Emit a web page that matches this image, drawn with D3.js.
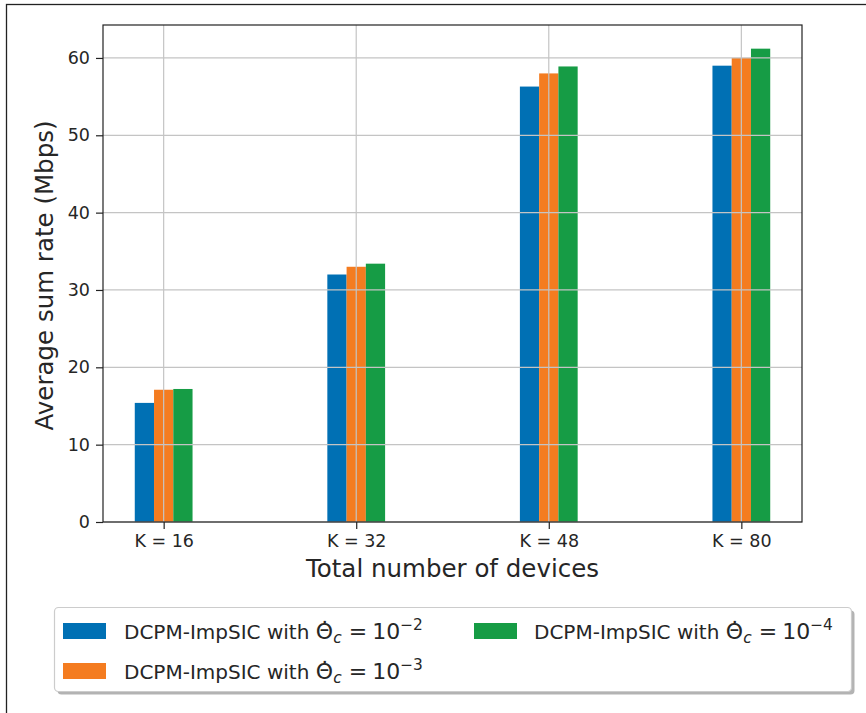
<!DOCTYPE html>
<html>
<head>
<meta charset="utf-8">
<script src="https://cdn.jsdelivr.net/npm/d3@7"></script>
<style>
  body { margin: 0; background: #fff; }
  svg { font-family: "DejaVu Sans", sans-serif; }
</style>
</head>
<body>
<svg id="chart" width="866" height="713"></svg>
<script>
// data
var categories = ["K = 16", "K = 32", "K = 48", "K = 80"];
var rateTheta2 = [15.4, 32.0, 56.3, 59.0];   // Theta_c = 10^-2
var rateTheta3 = [17.1, 33.0, 58.0, 60.0];   // Theta_c = 10^-3
var rateTheta4 = [17.2, 33.4, 58.9, 61.2];   // Theta_c = 10^-4
var exponents = ["2", "3", "4"];
var yTicks = [0, 10, 20, 30, 40, 50, 60];

var series = [
  { exp: exponents[0], values: rateTheta2, color: "#0070b4", offset: -0.1 },
  { exp: exponents[1], values: rateTheta3, color: "#f47c20", offset: 0 },
  { exp: exponents[2], values: rateTheta4, color: "#169c45", offset: 0.1 }
];

var svg = d3.select("#chart");
var textColor = "#262626";

// outer frame (runs off the picture on the right and bottom)
svg.append("rect")
  .attr("x", 6.5).attr("y", 4.5)
  .attr("width", 900).attr("height", 800)
  .attr("fill", "none").attr("stroke", "#222").attr("stroke-width", 1.3);

var plotLeft = 103, plotTop = 25, plotRight = 802, plotBottom = 522;
var barW = 0.1;

var x = d3.scaleLinear().domain([-0.315, 3.315]).range([plotLeft, plotRight]);
var yMax = d3.max([].concat(rateTheta2, rateTheta3, rateTheta4)) * 1.05;
var y = d3.scaleLinear().domain([0, yMax]).range([plotBottom, plotTop]);

// bars
series.forEach(function(s) {
  svg.append("g").selectAll("rect")
    .data(s.values)
    .enter().append("rect")
    .attr("x", function(d, i) { return x(i + s.offset - barW / 2); })
    .attr("width", function() { return x(barW) - x(0); })
    .attr("y", function(d) { return y(d); })
    .attr("height", function(d) { return y(0) - y(d); })
    .attr("fill", s.color);
});

// grid on top of bars
var grid = svg.append("g").attr("stroke", "#c4c4c4").attr("stroke-width", 1.2);
grid.selectAll("line.h").data(yTicks).enter().append("line")
  .attr("x1", plotLeft).attr("x2", plotRight)
  .attr("y1", function(d) { return y(d); }).attr("y2", function(d) { return y(d); });
grid.selectAll("line.v").data(categories).enter().append("line")
  .attr("y1", plotTop).attr("y2", plotBottom)
  .attr("x1", function(d, i) { return x(i); }).attr("x2", function(d, i) { return x(i); });

// axes
var yAxis = svg.append("g")
  .attr("transform", "translate(" + plotLeft + ",0)")
  .call(d3.axisLeft(y).tickValues(yTicks).tickSize(7).tickPadding(6).tickFormat(d3.format("d")));
var xAxis = svg.append("g")
  .attr("transform", "translate(0," + plotBottom + ")")
  .call(d3.axisBottom(x).tickValues([0, 1, 2, 3]).tickSize(7).tickPadding(6)
    .tickFormat(function(d) { return categories[d]; }));

[yAxis, xAxis].forEach(function(a) {
  a.select(".domain").remove();
  a.selectAll(".tick line").attr("stroke", "#222").attr("stroke-width", 1.2);
  a.selectAll(".tick text").attr("fill", textColor)
    .style("font-family", "DejaVu Sans").style("font-size", "17.5px");
});

// spines
svg.append("rect")
  .attr("x", plotLeft).attr("y", plotTop)
  .attr("width", plotRight - plotLeft).attr("height", plotBottom - plotTop)
  .attr("fill", "none").attr("stroke", "#222").attr("stroke-width", 1.2);

// axis labels
svg.append("text")
  .attr("x", (plotLeft + plotRight) / 2).attr("y", 577)
  .attr("text-anchor", "middle").attr("fill", textColor)
  .style("font-size", "24.5px")
  .text("Total number of devices");

svg.append("text")
  .attr("transform", "translate(53," + ((plotTop + plotBottom) / 2 + 2) + ") rotate(-90)")
  .attr("text-anchor", "middle").attr("fill", textColor)
  .style("font-size", "24.5px")
  .text("Average sum rate (Mbps)");

// legend
var lg = svg.append("g");
lg.append("rect")
  .attr("x", 57.5).attr("y", 610.5).attr("width", 797).attr("height", 84)
  .attr("rx", 4).attr("fill", "#b3b3b3");
lg.append("rect")
  .attr("x", 54.5).attr("y", 607.5).attr("width", 797).attr("height", 84)
  .attr("rx", 4).attr("fill", "#fff").attr("stroke", "#cccccc").attr("stroke-width", 1.2);

var legendPos = [
  { sx: 63, tx: 124, cy: 631 },
  { sx: 63, tx: 124, cy: 671 },
  { sx: 474, tx: 534, cy: 631 }
];

series.forEach(function(s, i) {
  var p = legendPos[i];
  lg.append("rect")
    .attr("x", p.sx).attr("y", p.cy - 8).attr("width", 43).attr("height", 16)
    .attr("fill", s.color);
  var t = lg.append("text")
    .attr("x", p.tx).attr("y", p.cy + 7.5)
    .attr("fill", textColor).style("font-size", "20px");
  t.append("tspan").text("DCPM-ImpSIC with ");
  // theta with a dot placed over its middle
  t.append("tspan").style("font-size", "22px").text("\u0398");
  t.append("tspan").attr("dx", -13.7).attr("dy", -2).style("font-size", "22px").text("\u02D9");
  t.append("tspan").attr("dx", 3).attr("dy", 6).style("font-size", "15.4px").style("font-style", "italic").text("c");
  t.append("tspan").attr("dx", 7).attr("dy", -4).style("font-size", "22px").text("=");
  t.append("tspan").attr("dx", 5).style("font-size", "22px").text("10");
  t.append("tspan").attr("dy", -9).style("font-size", "15.4px").text("\u2212" + s.exp);
});
</script>
</body>
</html>
